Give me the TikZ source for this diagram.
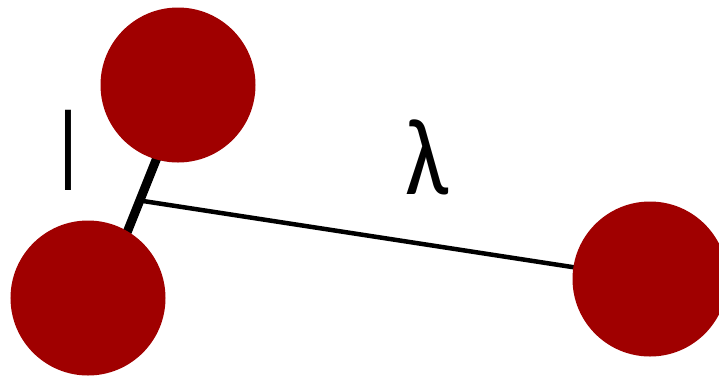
\documentclass[tikz,border=0pt]{standalone}
\usepackage{fontspec}
\setmainfont{Carlito}
\usetikzlibrary{backgrounds}
\definecolor{ballred}{RGB}{160,0,0}
\begin{document}
\begin{tikzpicture}[x=1bp,y=-1bp,
  ball/.style={circle,fill=ballred,draw=none,minimum size=155bp,inner sep=0pt},
  thickbond/.style={line width=9bp,black},
  thinbond/.style={line width=4.5bp,black},
  lbl/.style={inner sep=0pt,text=black}]
\useasboundingbox (0,0) rectangle (719,379);
\node[ball] (c1) at (178,85) {};
\node[ball] (c2) at (88,298) {};
\node[ball] (c3) at (650,279) {};
\coordinate (ta) at (160,150);
\coordinate (tb) at (124,240);
\coordinate (j) at (143,201);
\begin{scope}[on background layer]
\draw[thickbond] (ta) -- (tb);
\draw[thinbond] (j) -- (c3.center);
\end{scope}
\node[lbl,font=\fontsize{116}{116}\selectfont] (l) at (68,150) {\scalebox{0.6}[1]{l}};
\node[lbl,font=\fontsize{110}{110}\selectfont] (lam) at (427,157) {\scalebox{0.85}[1]{λ}};
\end{tikzpicture}
\end{document}
